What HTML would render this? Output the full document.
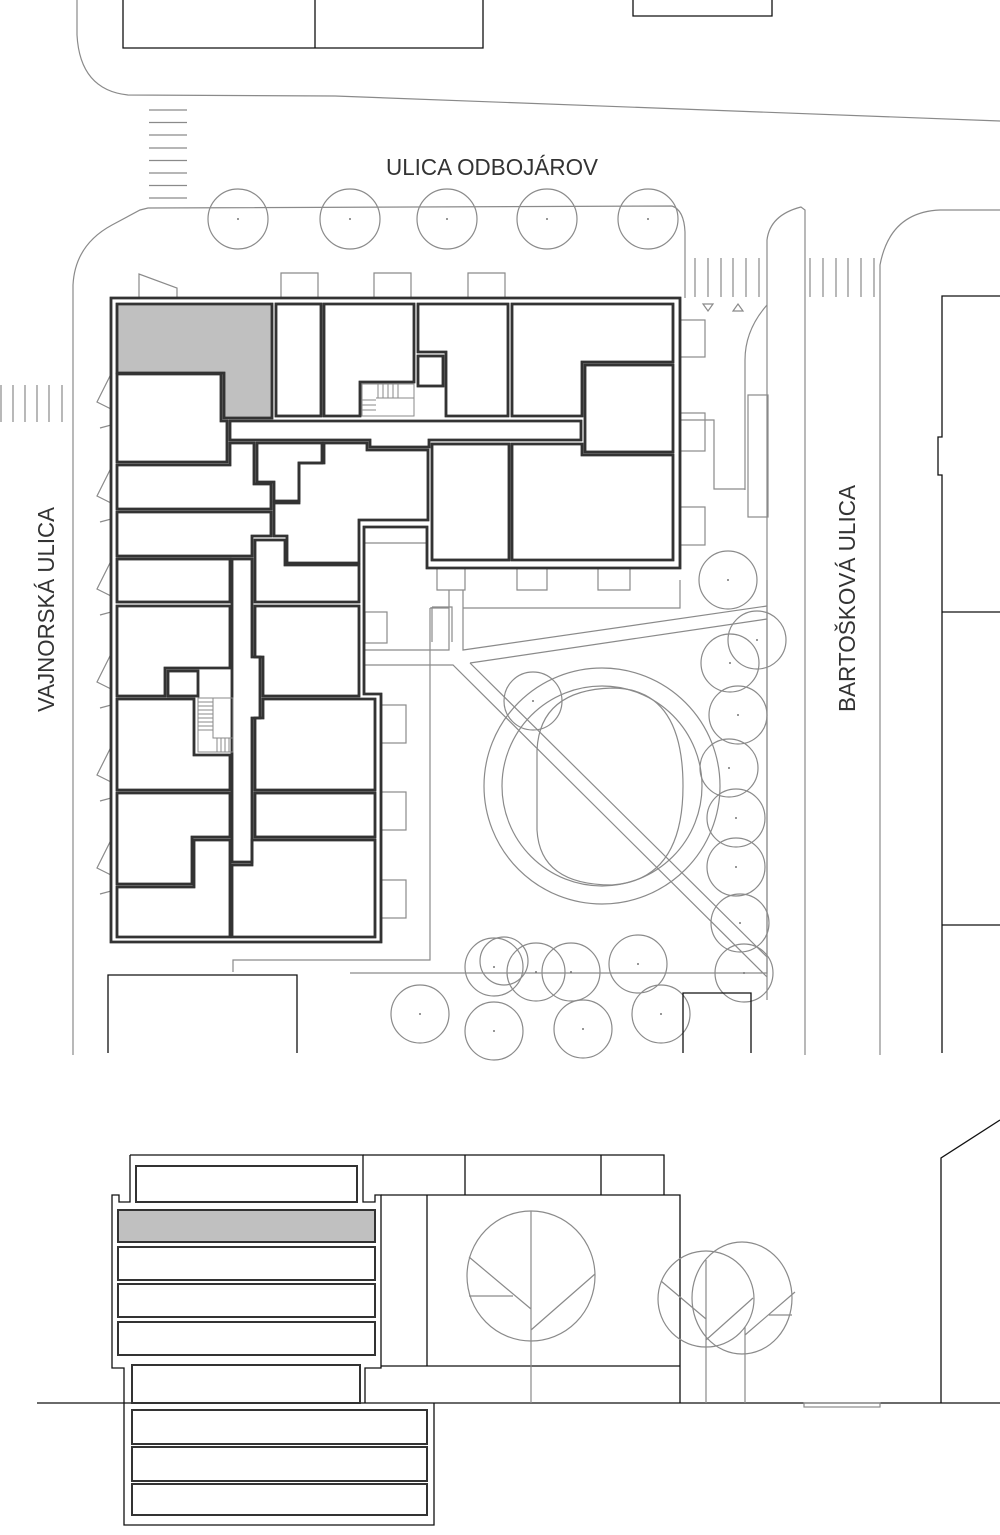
<!DOCTYPE html>
<html><head><meta charset="utf-8"><style>
html,body{margin:0;padding:0;background:#fff}
svg{display:block}
.g{fill:none;stroke:#8a8a8a;stroke-width:1.2}
.k{fill:none;stroke:#111;stroke-width:1.3}
.w{fill:none;stroke:#333;stroke-width:2.6}
.wi{fill:none;stroke:#fff;stroke-width:0.9}
.t{font-family:"Liberation Sans",sans-serif;font-size:23px;fill:#333}
.d{fill:#777}
</style></head><body>
<svg width="1000" height="1535" viewBox="0 0 1000 1535" xmlns="http://www.w3.org/2000/svg">
<path class="g" d="M77,0 L77,35 Q80,90 128,95 L335,96 L1000,121"/>
<path class="k" d="M123,0 L123,48 L483,48 L483,0 M315,0 L315,48 M633,0 L633,16 L772,16 L772,0"/>
<g class="g">
<path d="M149,110H187M149,122.5H187M149,135H187M149,148H187M149,160.5H187M149,173H187M149,185.5H187M149,198H187"/>
<path d="M73,1055 L73,285 Q75,245 112,225 L140,210 L148,208 L672,206 Q684,210 685,232 L685,298"/>
<path d="M695,258V297M708,258V297M721,258V297M733,258V297M746,258V297M759,258V297"/>
<path d="M810,258V297M823,258V297M836,258V297M848,258V297M861,258V297M874,258V297"/>
<path d="M1,385V422M13,385V422M25,385V422M37,385V422M49,385V422M62,385V422"/>
<path d="M703,304L713,304L708,311Z M733,311L743,311L738,304Z"/>
<path d="M767,1000 L767,240 Q770,215 801,207 L805,210 L805,1055"/>
<path d="M880,1055 L880,265 Q890,212 940,210 L1000,210"/>
<path d="M745,490 L745,360 Q745,330 767,305"/>
<circle cx="238" cy="219" r="30"/><circle cx="350" cy="219" r="30"/><circle cx="447" cy="219" r="30"/><circle cx="547" cy="219" r="30"/><circle cx="648" cy="219" r="30"/>
<path d="M281,298V273H318V298M374,298V273H411V298M468,298V273H505V298"/>
<path d="M139,299V274L177,288V299"/>
<rect x="680" y="320" width="25" height="37"/><rect x="680" y="413" width="25" height="38"/>
<path d="M680,420H714V489H745"/><rect x="748" y="395" width="20" height="122"/>
<rect x="680" y="507" width="25" height="38"/>
<path d="M437,568V590H465V568M517,568V590H547V568M598,568V590H630V568"/>
<rect x="381" y="705" width="25" height="38"/><rect x="381" y="792" width="25" height="38"/><rect x="381" y="880" width="25" height="38"/>
<rect x="365" y="612" width="22" height="31"/>
<path d="M364,543H427"/>
<path d="M430,608V960H233V972"/>
<path d="M430,608H449M449,590V650H364M463,590V650L767,606M463,608H680V580M364,665H453L767,977M470,663L767,619M470,663L767,957M350,973H767V580"/>
<path d="M432,607V642M432,607H452V642"/>
<circle cx="602" cy="786" r="118"/><circle cx="602" cy="786" r="100"/>
<path d="M537,750V830Q540,885 612,885Q683,880 683,786Q683,688 612,688Q540,690 537,750"/>
<circle cx="728" cy="580" r="29"/><circle cx="757" cy="640" r="29"/><circle cx="730" cy="663" r="29"/><circle cx="738" cy="715" r="29"/><circle cx="729" cy="768" r="29"/><circle cx="736" cy="818" r="29"/><circle cx="736" cy="867" r="29"/><circle cx="740" cy="923" r="29"/><circle cx="744" cy="973" r="29"/>
<circle cx="533" cy="701" r="29"/>
<circle cx="494" cy="967" r="29"/><circle cx="504" cy="961" r="24"/><circle cx="536" cy="972" r="29"/><circle cx="571" cy="972" r="29"/><circle cx="638" cy="964" r="29"/>
<circle cx="420" cy="1014" r="29"/><circle cx="494" cy="1031" r="29"/><circle cx="583" cy="1029" r="29"/><circle cx="661" cy="1014" r="29"/>
<path d="M111,374L97,402L111,409M100,428L111,425V460M111,468L97,496L111,503M100,522L111,519V554M111,561L97,589L111,596M100,615L111,612V647M111,654L97,682L111,689M100,708L111,705V740M111,747L97,775L111,782M100,801L111,798V833M111,840L97,868L111,875M100,894L111,891V926"/>
</g>
<g class="d"><circle cx="238" cy="219" r="1"/><circle cx="350" cy="219" r="1"/><circle cx="447" cy="219" r="1"/><circle cx="547" cy="219" r="1"/><circle cx="648" cy="219" r="1"/><circle cx="728" cy="580" r="1"/><circle cx="757" cy="640" r="1"/><circle cx="730" cy="663" r="1"/><circle cx="738" cy="715" r="1"/><circle cx="729" cy="768" r="1"/><circle cx="736" cy="818" r="1"/><circle cx="736" cy="867" r="1"/><circle cx="740" cy="923" r="1"/><circle cx="744" cy="973" r="1"/><circle cx="533" cy="701" r="1"/><circle cx="494" cy="967" r="1"/><circle cx="536" cy="972" r="1"/><circle cx="571" cy="972" r="1"/><circle cx="638" cy="964" r="1"/><circle cx="420" cy="1014" r="1"/><circle cx="494" cy="1031" r="1"/><circle cx="583" cy="1029" r="1"/><circle cx="661" cy="1014" r="1"/></g>
<path class="k" d="M1000,296H942V437H938V475H942V612H1000M942,612V925H1000M942,925V1053"/>
<path class="k" d="M108,1053V975H297V1053M683,1053V993H751V1053"/>
<path d="M117,304H272V418H224V373H117Z" fill="#c0c0c0"/>
<g id="rooms" class="w">
<path d="M111,298H680V568H427V527H364V694H381V942H111Z"/>
<path d="M117,304H272V418H224V373H117Z"/>
<rect x="276" y="304" width="45" height="112"/>
<path d="M324,304H414V382H360V416H324Z"/>
<path d="M418,304H508V416H446V352H418Z"/><rect x="418" y="356" width="25" height="30"/>
<path d="M512,304H673V362H582V416H512Z"/>
<rect x="585" y="365" width="88" height="87"/>
<path d="M117,374H221V421H227V462H117Z"/>
<path d="M230,421H581V440H429V447H370V440H230Z"/>
<path d="M117,465H230V443H254V484H271V509H117Z"/>
<path d="M257,443H322V463H299V501H274V482H257Z"/>
<path d="M324,443H367V450H428V520H359V563H287V536H274V503H299V463H324Z"/>
<rect x="432" y="444" width="77" height="116"/>
<path d="M512,444H582V455H673V560H512Z"/>
<path d="M117,512H271V536H252V556H117Z"/>
<rect x="117" y="559" width="113" height="43"/>
<path d="M232,559H252V657H260V718H252V862H232Z"/>
<path d="M255,540H285V565H359V602H255Z"/>
<path d="M255,606H359V696H263V657H255Z"/>
<path d="M117,606H230V668H165V696H117Z"/><rect x="168" y="671" width="30" height="25"/>
<path d="M117,699H194V755H230V790H117Z"/>
<path d="M255,718H263V699H375V790H255Z"/>
<rect x="255" y="793" width="120" height="44"/>
<path d="M117,793H230V837H192V884H117Z"/>
<path d="M117,887H194V840H230V937H117Z"/>
<path d="M232,865H252V840H375V937H232Z"/>
</g>
<use href="#rooms" class="wi" style="stroke:#fff;stroke-width:0.9"/>
<g class="g" style="stroke-width:1">
<rect x="362" y="384" width="52" height="32"/><path d="M378,384V398M383,384V398M388,384V398M393,384V398M398,384V398M362,400H376M362,405H376M362,410H376M376,398H414"/>
<rect x="198" y="698" width="35" height="54"/><path d="M198,702H213M198,706H213M198,710H213M198,714H213M198,718H213M198,722H213M198,726H213M198,730H213M217,738V752M221,738V752M225,738V752M229,738V752M213,698V738H233"/>
</g>
<text class="t" x="386" y="175" textLength="212" lengthAdjust="spacingAndGlyphs">ULICA ODBOJÁROV</text>
<text class="t" transform="translate(54,712) rotate(-90)" textLength="205" lengthAdjust="spacingAndGlyphs">VAJNORSKÁ  ULICA</text>
<text class="t" transform="translate(855,712) rotate(-90)" textLength="227" lengthAdjust="spacingAndGlyphs">BARTOŠKOVÁ ULICA</text>
<path class="k" d="M37,1403H1000"/>
<path class="k" d="M130,1155H363V1202H375V1195H381V1368H365V1403 M130,1155V1202H119V1195H112V1368H124V1525H434V1403"/>
<path class="k" d="M363,1155H664V1195M465,1155V1195M601,1155V1195M381,1195H680V1366H381M427,1195V1366M680,1366V1403"/>
<rect x="804" y="1403" width="76" height="4" class="g"/>
<path class="k" d="M941,1403V1158L1000,1120"/>
<g class="w" style="stroke-width:2">
<rect x="136" y="1166" width="221" height="36"/>
<rect x="118" y="1210" width="257" height="32" fill="#c0c0c0"/>
<rect x="118" y="1247" width="257" height="33"/><rect x="118" y="1284" width="257" height="33"/><rect x="118" y="1322" width="257" height="33"/>
<rect x="132" y="1365" width="228" height="38"/>
<rect x="132" y="1410" width="295" height="34"/><rect x="132" y="1447" width="295" height="34"/><rect x="132" y="1484" width="295" height="31"/>
</g>
<g class="g">
<ellipse cx="531" cy="1276" rx="64" ry="65"/>
<path d="M531,1211V1403M469,1257L531,1309M469,1296H513M531,1330L595,1274"/>
<circle cx="706" cy="1299" r="48"/>
<path d="M706,1260V1403M661,1281L706,1319M706,1340L753,1298"/>
<ellipse cx="742" cy="1298" rx="50" ry="56"/>
<path d="M745,1327V1403M745,1335L795,1292M769,1315H792"/>
</g>
</svg>
</body></html>
